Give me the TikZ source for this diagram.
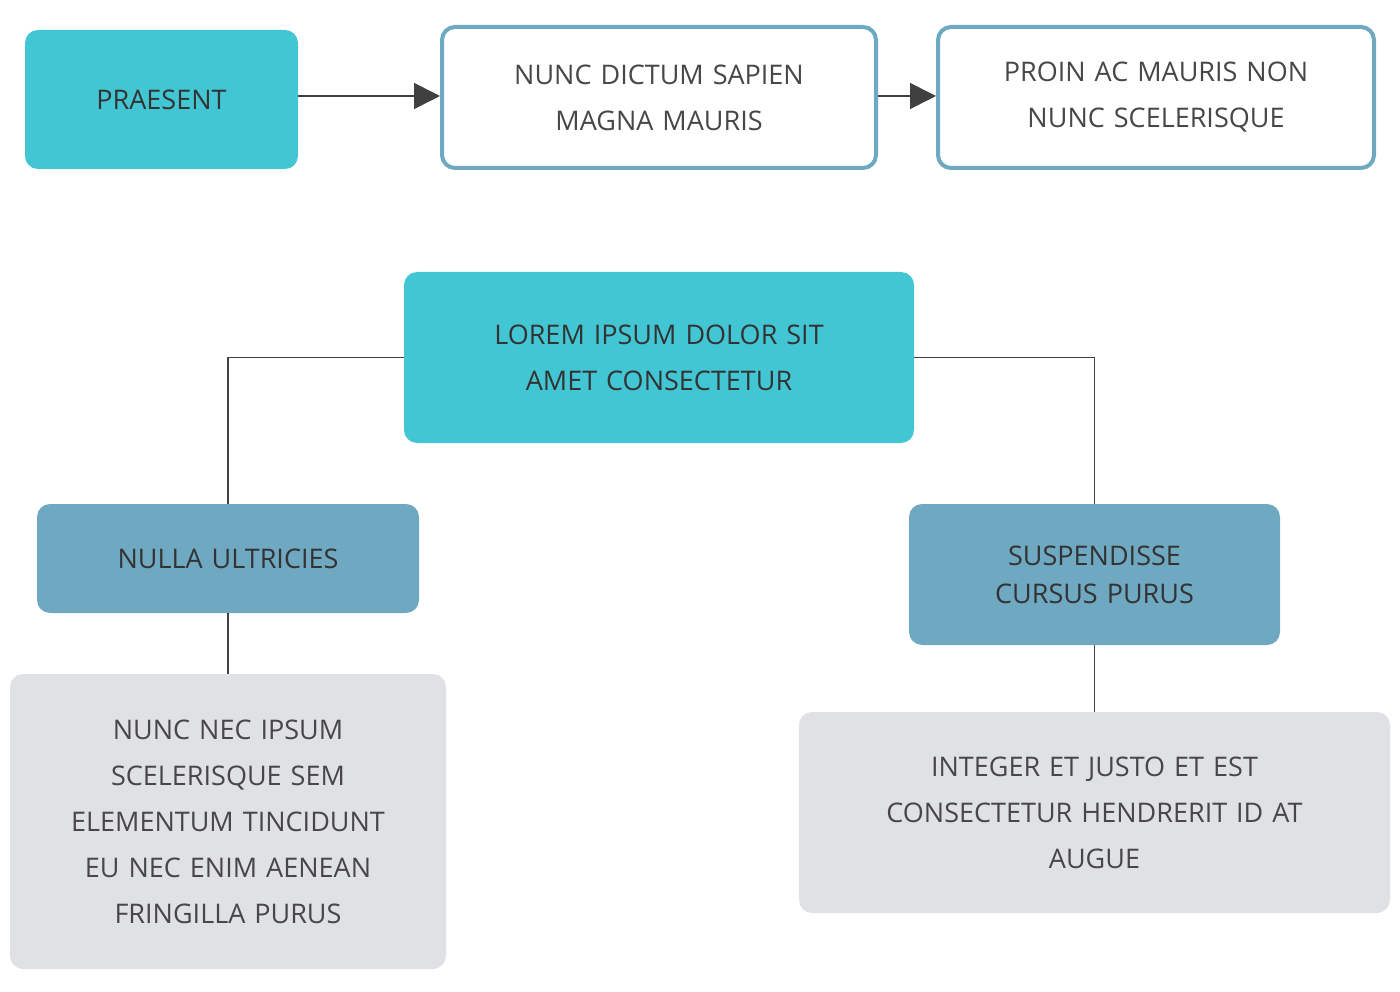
\documentclass[tikz,border=0pt]{standalone}
\usepackage{fontspec}
\setmainfont{Open Sans}
\usetikzlibrary{arrows.meta}
\definecolor{cyanbox}{HTML}{43C6D4}
\definecolor{bluebox}{HTML}{6FA8C1}
\definecolor{greybox}{HTML}{E0E1E5}
\definecolor{txt}{HTML}{333333}
\definecolor{linec}{HTML}{404040}
\tikzset{
 box/.style={rounded corners=13pt, inner sep=0pt, align=center, text=txt,
   font=\fontsize{27}{46}\selectfont},
 cbox/.style={box, fill=cyanbox},
 obox/.style={box, fill=white, draw=bluebox, line width=4pt, text=txt!90},
 bbox/.style={box, fill=bluebox, font=\fontsize{27}{38}\selectfont},
 gbox/.style={box, fill=greybox, text=txt!90},
 conn/.style={draw=linec, line width=1.6pt},
 arr/.style={conn, -{Triangle[length=26pt,width=26pt]}}
}
\begin{document}
\begin{tikzpicture}[x=1pt,y=-1pt]
\useasboundingbox (0,0) rectangle (1400,992);
\node[cbox, minimum width=273pt, minimum height=139pt] (a) at (161.5,99.5) {PRAESENT};
\node[obox, minimum width=434pt, minimum height=141pt, text width=420pt] (b) at (659,97.5) {NUNC DICTUM SAPIEN\\MAGNA MAURIS};
\node[obox, minimum width=436pt, minimum height=141pt, text width=420pt] (c) at (1156,97.5) {PROIN AC MAURIS NON\\NUNC SCELERISQUE};
\node[cbox, minimum width=510pt, minimum height=171pt, text width=480pt] (d) at (659,357.5) {LOREM IPSUM DOLOR SIT\\AMET CONSECTETUR};
\node[bbox, minimum width=382pt, minimum height=109pt, text width=370pt] (e) at (228,558.5) {NULLA ULTRICIES};
\node[bbox, minimum width=371pt, minimum height=141pt, text width=360pt] (f) at (1094.5,574.5) {SUSPENDISSE\\CURSUS PURUS};
\node[gbox, minimum width=436pt, minimum height=295pt, text width=420pt] (g) at (228,821.5) {NUNC NEC IPSUM\\SCELERISQUE SEM\\ELEMENTUM TINCIDUNT\\EU NEC ENIM AENEAN\\FRINGILLA PURUS};
\node[gbox, minimum width=591pt, minimum height=201pt, text width=560pt] (h) at (1094.5,812.5) {INTEGER ET JUSTO ET EST\\CONSECTETUR HENDRERIT ID AT\\AUGUE};
\draw[arr] (a.east |- 0,96) -- (b.west |- 0,96);
\draw[arr] (b.east |- 0,96) -- (c.west |- 0,96);
\draw[conn] (d.west) -| (e.north);
\draw[conn] (d.east) -| (f.north);
\draw[conn] (e.south) -- (g.north);
\draw[conn] (f.south) -- (h.north);
\end{tikzpicture}
\end{document}
